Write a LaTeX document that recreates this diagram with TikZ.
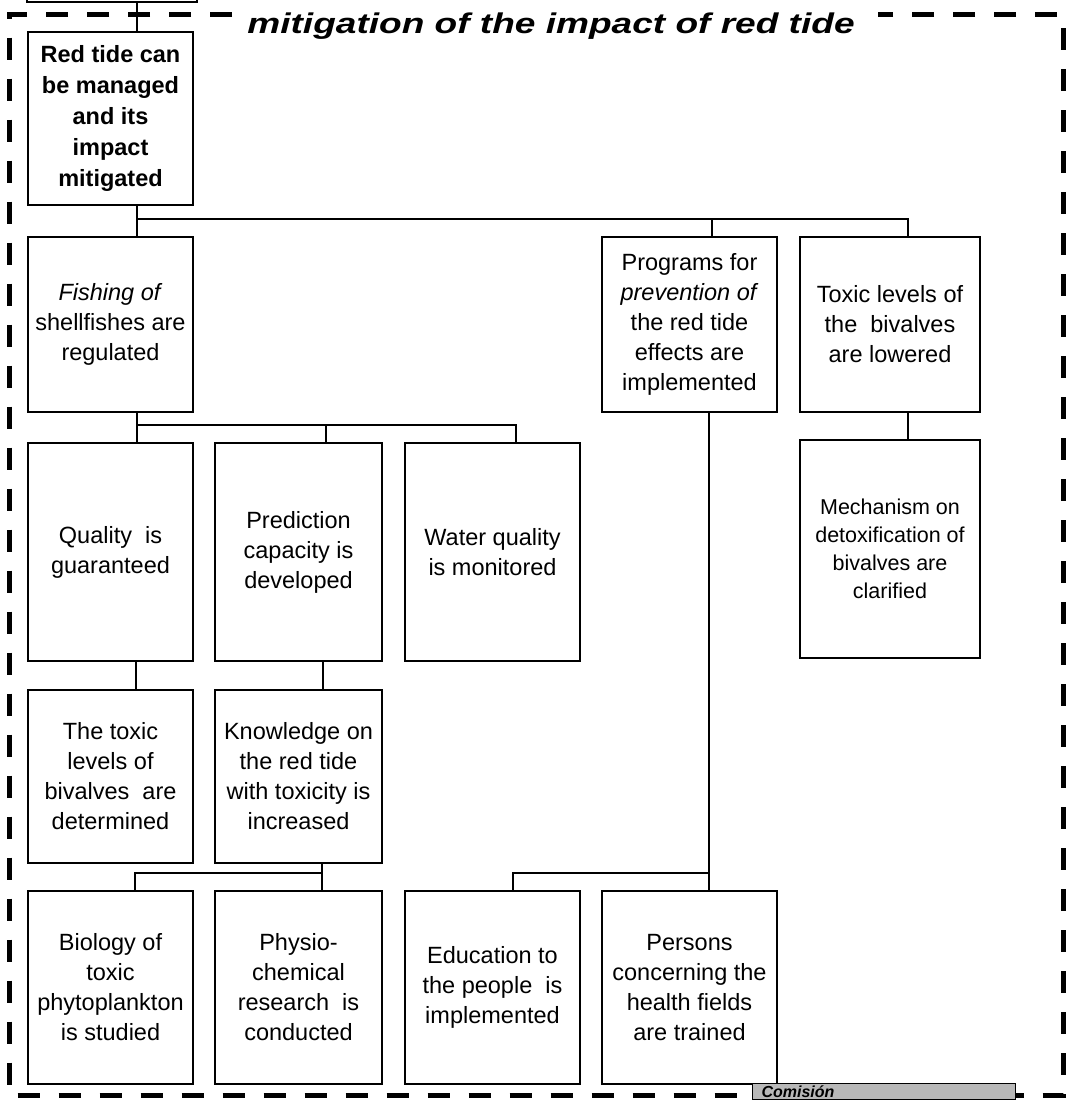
\documentclass[tikz,border=0pt]{standalone}
\usepackage{fontspec}
\setmainfont{Liberation Sans}
\usepackage{graphicx}

\begin{document}
\begin{tikzpicture}[
  x=1pt, y=-1pt,
  box/.style={draw, line width=2.6pt, align=center, inner sep=0pt, font=\fontsize{23.5}{30}\selectfont},
  boldbox/.style={box, font=\fontsize{23.5}{31}\selectfont\bfseries},
  smallbox/.style={box, font=\fontsize{21.5}{28}\selectfont},
  link/.style={line width=2pt},
  frame/.style={line width=5pt, dash pattern=on 22pt off 19pt},
  stamp/.style={draw, line width=1pt, fill=black!28, anchor=north west, text width=245pt, align=left,
    inner xsep=9pt, inner ysep=2pt, font=\fontsize{16}{18}\selectfont\bfseries\itshape}
]
\useasboundingbox (0,0) rectangle (1069,1100);

% Title and dashed frame
\node[anchor=base, inner sep=0pt, font=\fontsize{28.5}{30}\selectfont\bfseries\itshape] (title) at (551,33)
  {\scalebox{1.3}[1]{mitigation of the impact of red tide}};
\draw[frame] (232,14.5) -- (9,14.5) -- (9,1095) -- (1063,1095) -- (1063,14.5) -- (878,14.5);

% Boxes
\node[box, minimum width=170pt, minimum height=60pt] (prev) at (112,-28) {};
\node[boldbox, minimum width=165pt, minimum height=173pt] (root) at (110.5,118.5)
  {Red tide can\\be managed\\and its\\impact\\mitigated};

\node[box, minimum width=165pt, minimum height=175pt] (fish) at (110.5,324.5)
  {\textit{Fishing of}\\shellfishes are\\regulated};
\node[box, minimum width=175pt, minimum height=175pt] (prog) at (689.5,324.5)
  {Programs for\\\textit{prevention of}\\the red tide\\effects are\\implemented};
\node[box, minimum width=180pt, minimum height=175pt] (tox) at (890,324.5)
  {Toxic levels of\\the\ \ bivalves\\are lowered};

\node[box, minimum width=165pt, minimum height=218pt] (qual) at (110.5,552)
  {Quality\ \ is\\guaranteed};
\node[box, minimum width=167pt, minimum height=218pt] (pred) at (298.5,552)
  {Prediction\\capacity is\\developed};
\node[box, minimum width=175pt, minimum height=218pt] (water) at (492.5,552)
  {Water quality\\is monitored};
\node[smallbox, minimum width=180pt, minimum height=218pt] (mech) at (890,549)
  {Mechanism on\\detoxification of\\bivalves are\\clarified};

\node[box, minimum width=165pt, minimum height=173pt] (det) at (110.5,776.5)
  {The toxic\\levels of\\bivalves\ \ are\\determined};
\node[box, minimum width=167pt, minimum height=173pt] (know) at (298.5,776.5)
  {Knowledge on\\the red tide\\with toxicity is\\increased};

\node[box, minimum width=165pt, minimum height=193pt] (bio) at (110.5,987.5)
  {Biology of\\toxic\\phytoplankton\\is studied};
\node[box, minimum width=167pt, minimum height=193pt] (phys) at (298.5,987.5)
  {Physio-\\chemical\\research\ \ is\\conducted};
\node[box, minimum width=175pt, minimum height=193pt] (edu) at (492.5,987.5)
  {Education to\\the people\ \ is\\implemented};
\node[box, minimum width=175pt, minimum height=193pt] (pers) at (689.5,987.5)
  {Persons\\concerning the\\health fields\\are trained};

% Connectors
\coordinate (jTop) at (137,219);
\draw[link] (prev.south -| jTop) -- (root.north -| jTop);
\draw[link] (root.south -| jTop) -- (fish.north -| jTop);
\draw[link] (jTop) -| ([xshift=22.5pt]prog.north);
\draw[link] (jTop) -| ([xshift=18pt]tox.north);

\coordinate (jFish) at (137,425);
\draw[link] (fish.south -| jFish) -- (qual.north -| jFish);
\draw[link] (jFish) -| ([xshift=27.5pt]pred.north);
\draw[link] (jFish) -| ([xshift=23.5pt]water.north);

\draw[link] ([xshift=18pt]tox.south) -- ([xshift=18pt]tox.south |- mech.north);
\draw[link] ([xshift=25.5pt]qual.south) -- ([xshift=25.5pt]qual.south |- det.north);
\draw[link] ([xshift=24.5pt]pred.south) -- ([xshift=24.5pt]pred.south |- know.north);

\coordinate (jKnow) at (322,873);
\draw[link] (know.south -| jKnow) -- (phys.north -| jKnow);
\draw[link] (jKnow) -| ([xshift=24.5pt]bio.north);

\coordinate (jProg) at (709,873);
\draw[link] (prog.south -| jProg) -- (pers.north -| jProg);
\draw[link] (jProg) -| ([xshift=20.5pt]edu.north);

% Stamp at the bottom edge
\node[stamp] (comis) at (752,1083) {Comisión};
\end{tikzpicture}
\end{document}
